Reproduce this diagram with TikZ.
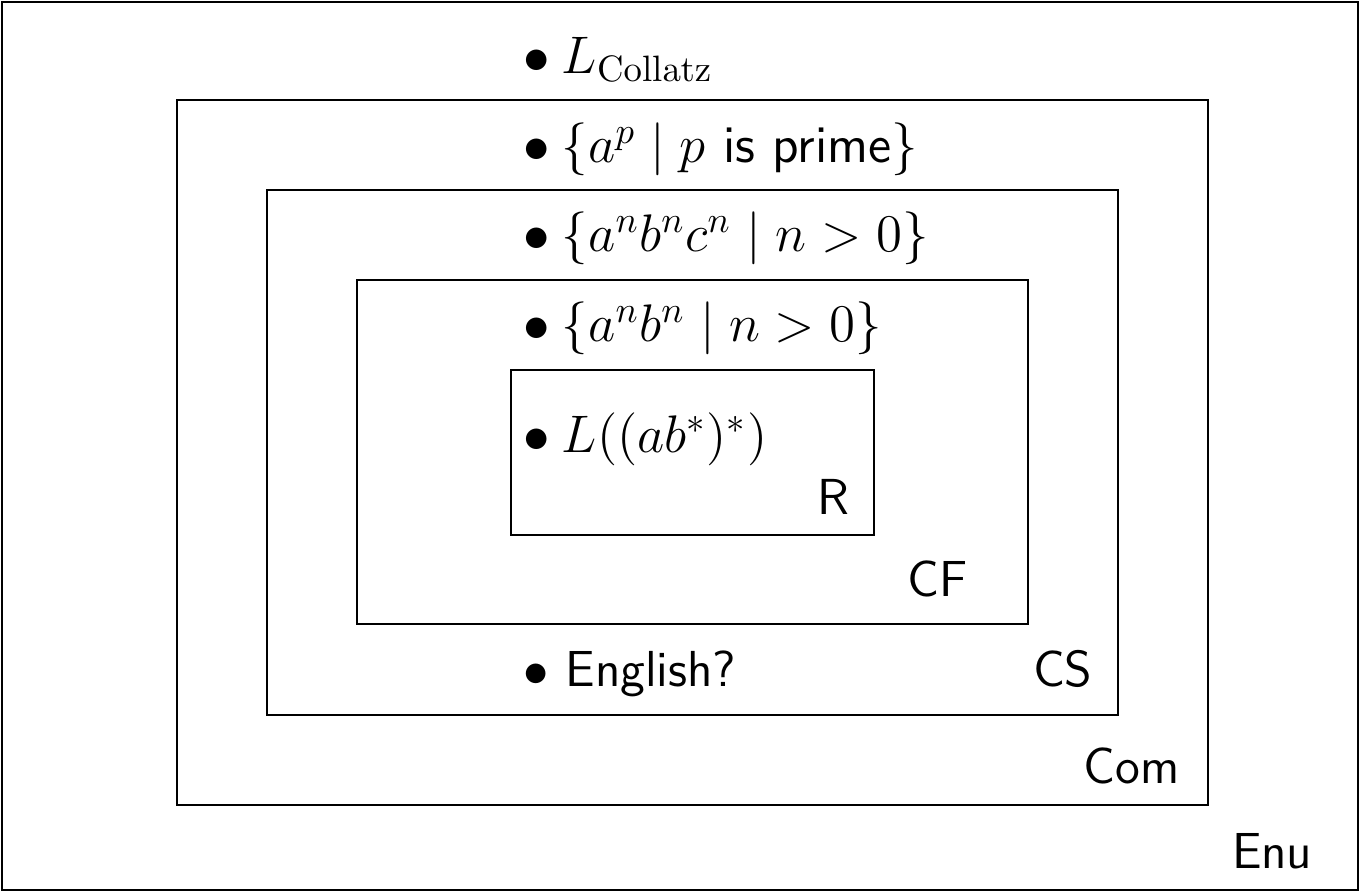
\documentclass[tikz,border=0pt]{standalone}
\usepackage{amsmath}
\usepackage{amssymb}
\usepackage{graphicx}
\usepackage{xcolor}
\usepackage{tikz}
\renewcommand{\familydefault}{\sfdefault}
\newcommand{\bigmath}[1]{\scalebox{1.045}{$\bullet\:#1$}}

\begin{document}
\begin{tikzpicture}[
  cls/.style={draw, line width=0.6pt},
  lang/.style={anchor=base west, inner sep=0pt, font=\fontsize{14.4}{17}\selectfont},
  tag/.style={anchor=base east, inner sep=0pt, font=\fontsize{14.4}{17}\selectfont}
]
\useasboundingbox (0,0) rectangle (13.6,8.92);
% language classes, outermost first
\draw[cls] (0.02,0.02) rectangle (13.58,8.90);
\draw[cls] (1.77,0.87) rectangle (12.08,7.92);
\draw[cls] (2.67,1.77) rectangle (11.18,7.02);
\draw[cls] (3.57,2.68) rectangle (10.28,6.12);
\draw[cls] (5.11,3.57) rectangle (8.74,5.22);
% example languages
\node[lang] (collatz) at (5.23,8.18) {\bigmath{L_{\mathrm{Collatz}}}};
\node[lang] (prime) at (5.23,7.29) {\bigmath{\{a^p \mid p \text{ is prime}\}}};
\node[lang] (abc) at (5.23,6.40) {\bigmath{\{a^n b^n c^n \mid n > 0\}}};
\node[lang] (ab) at (5.23,5.50) {\bigmath{\{a^n b^n \mid n > 0\}}};
\node[lang] (reg) at (5.23,4.39) {\bigmath{L((ab^*)^*)}};
\node[lang] (english) at (5.23,2.05) {$\bullet$ English?};
% class names
\node[tag] (r) at (8.50,3.77) {R};
\node[tag] (cf) at (9.68,2.95) {CF};
\node[tag] (cs) at (10.93,2.05) {CS};
\node[tag] (com) at (11.80,1.09) {Com};
\node[tag] (enu) at (13.13,0.24) {Enu};
\end{tikzpicture}
\end{document}
